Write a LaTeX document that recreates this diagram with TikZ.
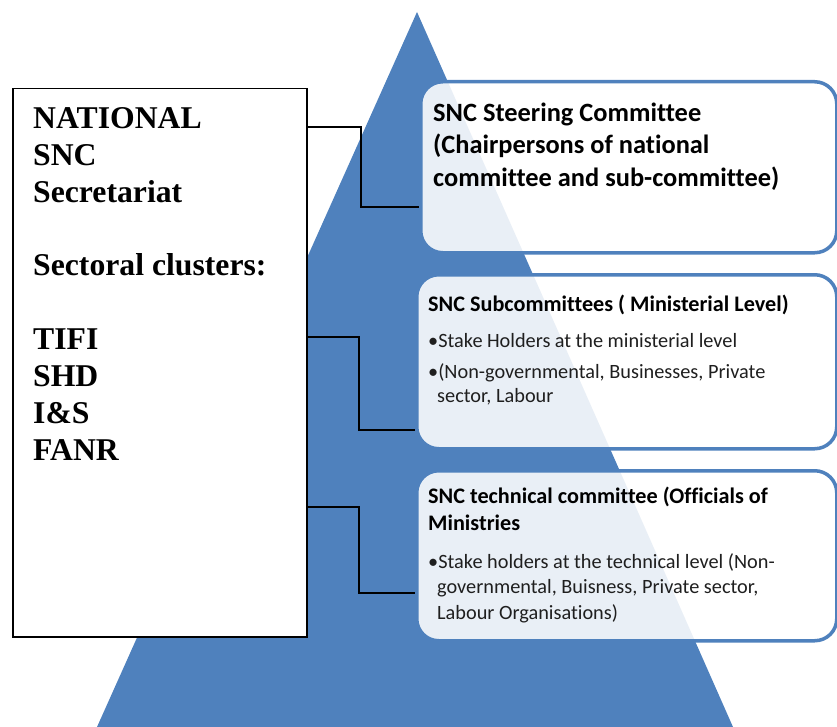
\documentclass[tikz,border=0pt]{standalone}
\usepackage{fontspec}
\setmainfont[Ligatures=NoCommon]{Carlito}
\newfontfamily\timesf{Liberation Serif}
\definecolor{pblue}{HTML}{4F81BD}
\begin{document}
\begin{tikzpicture}[x=1pt,y=-1pt,
  lvl/.style={draw=pblue, line width=3.5pt, rounded corners=22pt, fill=white, fill opacity=0.88, anchor=north west, inner sep=0pt},
  secbox/.style={draw=black, line width=1.5pt, fill=white, anchor=north west, inner sep=0pt},
  conn/.style={draw=black, line width=1.6pt},
  sectxt/.style={anchor=base west, inner sep=0pt, font=\timesf\bfseries\fontsize{31.7}{37}\selectfont},
  bigtxt/.style={anchor=base west, inner sep=0pt, font=\bfseries\fontsize{26.4}{32}\selectfont},
  ttl/.style={anchor=base west, inner sep=0pt, font=\bfseries\fontsize{22.2}{26}\selectfont},
  btxt/.style={anchor=base west, inner sep=0pt, font=\fontsize{20.3}{24}\selectfont, text=black!88},
]
\useasboundingbox (0,0) rectangle (837,727);
% pyramid
\fill[pblue] (417,12) -- (733,727) -- (97,727) -- cycle;
% left box
\node[secbox, minimum width=294pt, minimum height=548pt] (sec) at (12,88) {};
% level boxes
\node[lvl, minimum width=416pt, minimum height=171pt] (b1) at (419,80) {};
\node[lvl, minimum width=420pt, minimum height=174pt] (b2) at (415,273) {};
\node[lvl, minimum width=420pt, minimum height=170pt] (b3) at (415,469) {};
% connectors
\coordinate (k1) at (361,207);
\coordinate (k2) at (359,430);
\coordinate (k3) at (359,593);
\draw[conn] (sec.east |- 0,127) -| (k1) -- (b1.west |- k1);
\draw[conn] (sec.east |- 0,337) -| (k2) -- (b2.west |- k2);
\draw[conn] (sec.east |- 0,507) -| (k3) -- (b3.west |- k3);
% left text
\node[sectxt] (s1) at (33,129) {NATIONAL};
\node[sectxt] (s2) at (33,166) {SNC};
\node[sectxt] (s3) at (33,203) {Secretariat};
\node[sectxt] (s4) at (33,275) {Sectoral clusters:};
\node[sectxt] (s5) at (33,349) {TIFI};
\node[sectxt] (s6) at (33,386) {SHD};
\node[sectxt] (s7) at (33,423) {I\&S};
\node[sectxt] (s8) at (33,460) {FANR};
% box 1 text
\node[bigtxt] (a1) at (433,122) {SNC Steering Committee};
\node[bigtxt] (a2) at (433,154) {(Chairpersons of national};
\node[bigtxt] (a3) at (433,187) {committee and sub-committee)};
% box 2 text
\node[ttl] (c1) at (428,311) {SNC Subcommittees ( Ministerial Level)};
\node[btxt] (c2) at (428,347) {\makebox[309pt][s]{•Stake Holders at the ministerial level}};
\node[btxt] (c3) at (428,378) {•(Non-governmental, Businesses, Private};
\node[btxt] (c4) at (437,402) {sector, Labour};
% box 3 text
\node[ttl] (d1) at (428,503) {SNC technical committee (Officials of};
\node[ttl] (d2) at (428,530) {Ministries};
\node[btxt] (d3) at (428,568) {•Stake holders at the technical level (Non-};
\node[btxt] (d4) at (437,593) {governmental, Buisness, Private sector,};
\node[btxt] (d5) at (437,619) {Labour Organisations)};
\end{tikzpicture}
\end{document}
